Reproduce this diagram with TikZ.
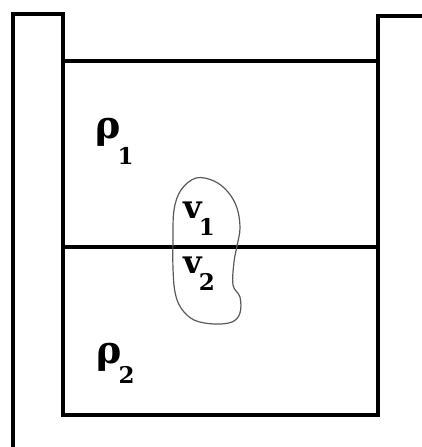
\documentclass[tikz,border=0pt]{standalone}
\usepackage{fontspec}
\newfontfamily\lblfont{DejaVu Serif}
\usepackage{tikz}
\tikzset{
  wall/.style={line width=1.9pt, draw=black},
  blob/.style={line width=0.6pt, draw=black!65},
  lbl/.style={font=\lblfont\bfseries\fontsize{16}{16}\selectfont, inner sep=0pt, anchor=base west},
  rholbl/.style={lbl, font=\lblfont\bfseries\fontsize{19}{19}\selectfont}
}
\newcommand{\sub}[2][8.5pt]{\kern-1.5pt\raisebox{-#1}{\fontsize{11.5}{11.5}\selectfont #2}}

\begin{document}
\begin{tikzpicture}[x=0.5pt, y=-0.5pt]
  \useasboundingbox (0,0) rectangle (422,447);
  % container
  \draw[wall] (13,447) -- (13,14) -- (63,14) -- (63,415) -- (378,415) -- (378,16) -- (422,16);
  % liquid surface and interface
  \draw[wall] (63,61) -- (378,61);
  \draw[wall] (63,247) -- (378,247);
  % body
  \draw[blob] plot[smooth cycle, tension=0.6] coordinates {
    (196,178) (214,181) (228,192) (237,208) (240,228) (237,246)
    (234,262) (233,285) (240,297) (240,313) (232,322) (214,324)
    (194,320) (181,308) (175,292) (173,268) (173,240) (174,210) (181,190)};
  % labels
  \node[rholbl] (rhoA) at (95,138) {ρ\sub[13pt]{1}};
  \node[lbl] (volA) at (183,218) {v\sub{1}};
  \node[lbl] (volB) at (183,273) {v\sub{2}};
  \node[rholbl] (rhoB) at (96,363) {ρ\sub[10pt]{2}};
\end{tikzpicture}
\end{document}
